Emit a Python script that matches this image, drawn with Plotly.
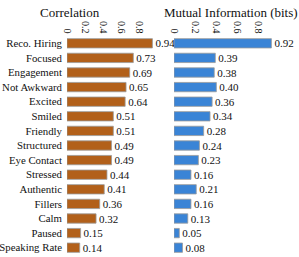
import plotly.graph_objects as go

features = ["Reco. Hiring", "Focused", "Engagement", "Not Awkward", "Excited", "Smiled",
            "Friendly", "Structured", "Eye Contact", "Stressed", "Authentic", "Fillers",
            "Calm", "Paused", "Speaking Rate"]
correlation = [0.94, 0.73, 0.69, 0.65, 0.64, 0.51, 0.51, 0.49, 0.49, 0.44, 0.41, 0.36, 0.32, 0.15, 0.14]
mutual_info = [0.92, 0.39, 0.38, 0.40, 0.36, 0.34, 0.28, 0.24, 0.23, 0.16, 0.21, 0.16, 0.13, 0.05, 0.08]
tick_vals = [0, 0.2, 0.4, 0.6, 0.8]
tick_text = ["0", "0.2", "0.4", "0.6", "0.8"]

FONT = "Liberation Serif"
W, H = 299, 257
T, B = 36, 2
ph = H - T - B

fig = go.Figure()
fig.add_trace(go.Bar(
    y=features, x=correlation, orientation="h", xaxis="x", yaxis="y",
    marker=dict(color="#B2601A", line=dict(color="#9a9a9a", width=0.8)),
    text=[f"{v:.2f}" for v in correlation], textposition="outside",
    constraintext="none", textangle=0,
    textfont=dict(family=FONT, size=11, color="#111"), cliponaxis=False,
))
fig.add_trace(go.Bar(
    y=features, x=mutual_info, orientation="h", xaxis="x2", yaxis="y2",
    marker=dict(color="#3A84D6", line=dict(color="#9a9a9a", width=0.8)),
    text=[f"{v:.2f}" for v in mutual_info], textposition="outside",
    constraintext="none", textangle=0,
    textfont=dict(family=FONT, size=11, color="#111"), cliponaxis=False,
))

axis_common = dict(range=[0, 1], side="top", tickvals=tick_vals, ticktext=tick_text,
                   tickangle=90, showgrid=False, zeroline=False, showline=False,
                   ticks="", automargin=False,
                   tickfont=dict(family=FONT, size=10, color="#111"))
fig.update_layout(
    width=W, height=H, margin=dict(l=0, r=0, t=T, b=B, autoexpand=False),
    paper_bgcolor="white", plot_bgcolor="white", showlegend=False,
    bargap=0.36, font=dict(family=FONT, color="#111"),
    xaxis=dict(domain=[0.224, 0.528], anchor="y", **axis_common),
    xaxis2=dict(domain=[0.582, 0.936], anchor="y2", **axis_common),
    yaxis=dict(autorange="reversed", showgrid=False, zeroline=False, ticks="",
               automargin=False, ticklabelstandoff=4,
               tickfont=dict(family=FONT, size=10.8, color="#111"), anchor="x"),
    yaxis2=dict(autorange="reversed", showgrid=False, zeroline=False, ticks="",
                automargin=False, showticklabels=False, anchor="x2", matches="y"),
    annotations=[
        dict(text="Correlation", x=70 / W, y=1 + (T - 12) / ph, xref="paper", yref="paper",
             showarrow=False, xanchor="center", yanchor="middle",
             font=dict(family=FONT, size=13, color="#111")),
        dict(text="Mutual Information (bits)", x=231 / W, y=1 + (T - 12) / ph,
             xref="paper", yref="paper", showarrow=False, xanchor="center", yanchor="middle",
             font=dict(family=FONT, size=13, color="#111")),
    ],
)
fig.write_html("out.html", config={"displayModeBar": False},
               post_script="document.body.style.margin='0';document.body.style.padding='0';")
